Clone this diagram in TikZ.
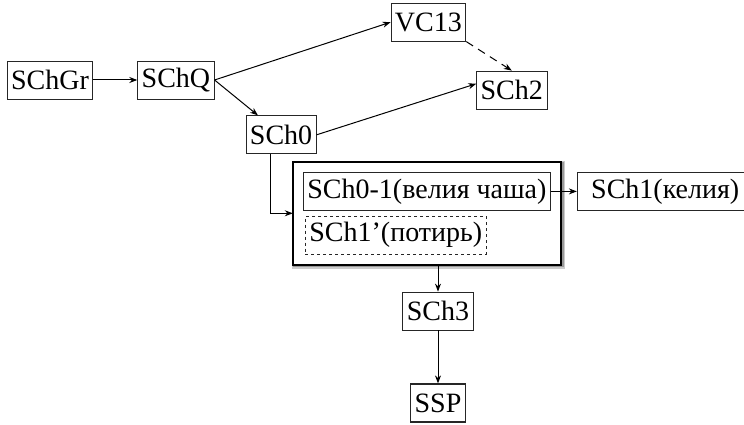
\documentclass[tikz,border=0pt]{standalone}
\usepackage{fontspec}
\setmainfont{Liberation Serif}
\usetikzlibrary{positioning,arrows.meta,fit,backgrounds}

\begin{document}
\begin{tikzpicture}[->, >={Stealth[length=8pt,width=6pt]}, x=1pt, y=1pt, line width=1pt,
    box/.style={draw=black!85, line width=0.8pt, rectangle, minimum height=38pt, inner xsep=4pt, inner ysep=2pt, font=\fontsize{28}{30}\selectfont}]
    \useasboundingbox (0,0) rectangle (744,-425);
    \node (schgr) [box] at (50,-80) {SChGr};
    \node (schq) [box, right=44pt of schgr] {SChQ};
    \node (vc13) [box, above right=19pt and 176pt of schq] {VC13};
    \node (sch2) [box, below right=29pt and 10pt of vc13] {SCh2};
    \node (sch0) [box, below right=16pt and 31pt of schq] {SCh0};

    \node (sch01) [box, anchor=north west] at (303,-172) {SCh0-1(велия чаша)};
    \node (sch1p) [box, dashed, below=5pt of sch01.south west, anchor=north west, xshift=2pt] {SCh1’(потирь)};
    \node (sch1k) [box, minimum width=176pt, right=26pt of sch01] {SCh1(келия)};
    % group frame with a grey shadow
    \begin{scope}[on background layer, -]
        \node (grp) [inner xsep=10pt, inner ysep=10pt, fit=(sch01)(sch1p)] {};
        \fill[black!20] ([shift={(-1pt,-4pt)}]grp.south west) rectangle ([shift={(4pt,1pt)}]grp.north east);
        \fill[black!40] ([shift={(0pt,-2.5pt)}]grp.south west) rectangle ([shift={(2.5pt,0pt)}]grp.north east);
        \draw[line width=1.8pt, fill=white] (grp.south west) rectangle (grp.north east);
    \end{scope}

    \node (sch3) [box] at (438,-311) {SCh3};
    \node (ssp) [box, line width=1.5pt, below=53pt of sch3] {SSP};

    \draw (schgr) -- (schq);
    \draw (schq.east) -- (vc13.west);
    \draw (schq.east) -- (sch0.140);
    \draw (sch0.east) -- (sch2.170);
    \draw[dash pattern=on 8pt off 6pt] (vc13.south east) -- (sch2.north);
    \draw ([xshift=-11pt]sch0.south) |- (grp.west);
    \draw (sch01) -- (sch1k);
    \draw (grp.south -| sch3.north) -- (sch3.north);
    \draw (sch3) -- (ssp);
\end{tikzpicture}
\end{document}
